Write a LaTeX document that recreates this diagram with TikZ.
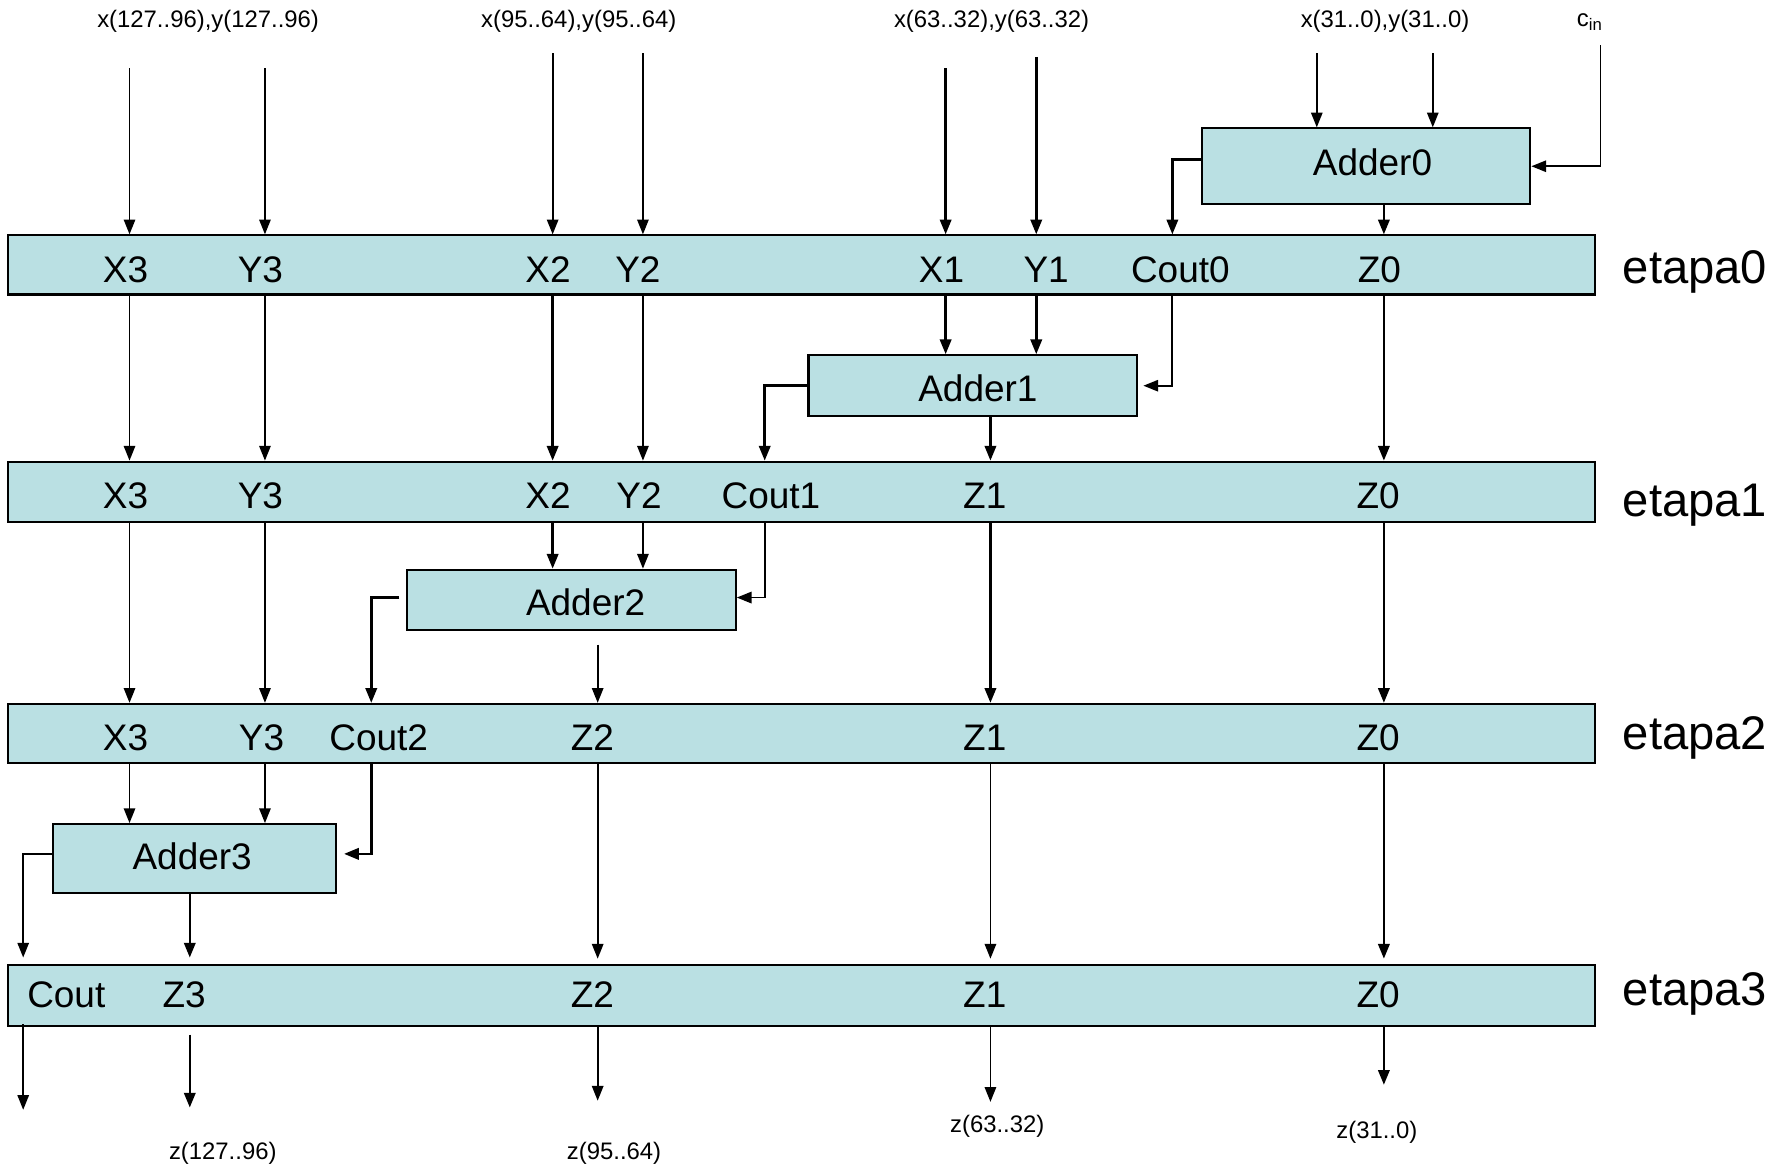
\documentclass[tikz,border=0pt]{standalone}
\usepackage{fontspec}
\setmainfont{Liberation Sans}
\usetikzlibrary{arrows.meta}

\definecolor{cellfill}{RGB}{186,224,227}
\newcommand\fBar{\fontsize{32.5}{38}\selectfont}
\newcommand\fIo{\fontsize{21}{25}\selectfont}
\newcommand\fStage{\fontsize{41.5}{48}\selectfont}

\begin{document}
\begin{tikzpicture}[x=1pt,y=-1pt,
  box/.style={draw=black,line width=1.8pt,fill=cellfill,rectangle,inner sep=0pt},
  bar/.style={box,minimum width=1396pt},
  lbl/.style={font=\fBar,anchor=base,inner sep=0pt},
  io/.style={font=\fIo,anchor=base,inner sep=0pt},
  stage/.style={font=\fStage,anchor=base west,inner sep=0pt},
  wire/.style={line width=1.6pt,-{Triangle[length=13pt,width=10pt]}},
  bus/.style={wire,line width=2.2pt}]

\useasboundingbox (0,0) rectangle (1568,1024);

% pipeline registers
\node[bar,minimum height=52pt] (b0) at (705,233) {};
\node[bar,minimum height=53pt] (b1) at (705,432.5) {};
\node[bar,minimum height=52pt] (b2) at (705,645) {};
\node[bar,minimum height=53pt] (b3) at (705,875.5) {};

% adders
\node[box,minimum width=288.8pt,minimum height=66.6pt] (a0) at (1201.4,146.2) {};
\node[box,minimum width=288.6pt,minimum height=53.6pt] (a1) at (855.3,339.2) {};
\node[box,minimum width=288.8pt,minimum height=53pt] (a2) at (502.6,527.5) {};
\node[box,minimum width=249.3pt,minimum height=60.3pt] (a3) at (171,754.9) {};

\node[lbl] (ta0) at (1207,154) {Adder0};
\node[lbl] (ta1) at (860,353) {Adder1};
\node[lbl] (ta2) at (515,541) {Adder2};
\node[lbl] (ta3) at (169,765) {Adder3};

% column positions
\coordinate (cX3) at (113.9,0);
\coordinate (cY3) at (233,0);
\coordinate (cX2) at (486,0);
\coordinate (cY2) at (565.4,0);
\coordinate (cX1) at (831.6,0);
\coordinate (cY1) at (911.3,0);
\coordinate (cC0) at (1031,0);
\coordinate (cZ0) at (1217,0);
\coordinate (cC1) at (672.5,0);
\coordinate (cZ1) at (871,0);
\coordinate (cC2) at (326.5,0);
\coordinate (cZ2) at (525.6,0);
\coordinate (cCo) at (20.4,0);
\coordinate (cZ3) at (166.9,0);

% register contents
\node[lbl] (l0x3) at (110.4,248) {X3};
\node[lbl] (l0y3) at (229,248) {Y3};
\node[lbl] (l0x2) at (482,248) {X2};
\node[lbl] (l0y2) at (561,248) {Y2};
\node[lbl] (l0x1) at (828,248) {X1};
\node[lbl] (l0y1) at (920,248) {Y1};
\node[lbl] (l0c0) at (1038,248) {Cout0};
\node[lbl] (l0z0) at (1213,248) {Z0};

\node[lbl] (l1x3) at (110.4,447) {X3};
\node[lbl] (l1y3) at (229,447) {Y3};
\node[lbl] (l1x2) at (482,447) {X2};
\node[lbl] (l1y2) at (562,447) {Y2};
\node[lbl] (l1c1) at (678,447) {Cout1};
\node[lbl] (l1z1) at (866,447) {Z1};
\node[lbl] (l1z0) at (1212,447) {Z0};

\node[lbl] (l2x3) at (110.4,660) {X3};
\node[lbl] (l2y3) at (230,660) {Y3};
\node[lbl] (l2c2) at (333,660) {Cout2};
\node[lbl] (l2z2) at (521,660) {Z2};
\node[lbl] (l2z1) at (866,660) {Z1};
\node[lbl] (l2z0) at (1212,660) {Z0};

\node[lbl] (l3co) at (58.3,886) {Cout};
\node[lbl] (l3z3) at (162,886) {Z3};
\node[lbl] (l3z2) at (521,886) {Z2};
\node[lbl] (l3z1) at (866,886) {Z1};
\node[lbl] (l3z0) at (1212,886) {Z0};

% stage names
\node[stage] (e0) at (1427,249) {etapa0};
\node[stage] (e1) at (1427,454) {etapa1};
\node[stage] (e2) at (1427,659) {etapa2};
\node[stage] (e3) at (1427,884) {etapa3};

% operand inputs
\node[io] (in3) at (183,24.5) {x(127..96),y(127..96)};
\node[io] (in2) at (509,24.5) {x(95..64),y(95..64)};
\node[io] (in1) at (872,24.5) {x(63..32),y(63..32)};
\node[io] (in0) at (1218,24.5) {x(31..0),y(31..0)};
\node[io,anchor=base west] (cinl) at (1386.5,23) {c\textsubscript{in}};

\coordinate (sX3) at (113.9,60);
\coordinate (sY3) at (233,60);
\coordinate (sX2) at (486,47);
\coordinate (sY2) at (565.4,47);
\coordinate (sX1) at (831.6,60);
\coordinate (sY1) at (911.3,50);
\coordinate (sX0) at (1158,47);
\coordinate (sY0) at (1260,47);
\coordinate (sCin) at (1407.5,40);

\draw[wire] (sX3) -- (sX3 |- b0.north);
\draw[wire] (sY3) -- (sY3 |- b0.north);
\draw[wire] (sX2) -- (sX2 |- b0.north);
\draw[wire] (sY2) -- (sY2 |- b0.north);
\draw[bus] (sX1) -- (sX1 |- b0.north);
\draw[bus] (sY1) -- (sY1 |- b0.north);
\draw[wire] (sX0) -- (sX0 |- a0.north);
\draw[wire] (sY0) -- (sY0 |- a0.north);
\draw[wire] (sCin) |- (a0.east);

% stage 0
\draw[bus] ([yshift=6pt]a0.west) -| (cC0 |- b0.north);
\draw[bus] (cZ0 |- a0.south) -- (cZ0 |- b0.north);

% stage 0 -> 1
\draw[wire] (cX3 |- b0.south) -- (cX3 |- b1.north);
\draw[wire] (cY3 |- b0.south) -- (cY3 |- b1.north);
\draw[bus] (cX2 |- b0.south) -- (cX2 |- b1.north);
\draw[wire] (cY2 |- b0.south) -- (cY2 |- b1.north);
\draw[bus] (cX1 |- b0.south) -- (cX1 |- a1.north);
\draw[bus] (cY1 |- b0.south) -- (cY1 |- a1.north);
\draw[wire,shorten >=5pt] (cC0 |- b0.south) |- (a1.east);
\draw[bus] (cZ0 |- b0.south) -- (cZ0 |- b1.north);
\draw[bus] (a1.west) -| (cC1 |- b1.north);
\draw[bus] (cZ1 |- a1.south) -- (cZ1 |- b1.north);

% stage 1 -> 2
\draw[wire] (cX3 |- b1.south) -- (cX3 |- b2.north);
\draw[wire] (cY3 |- b1.south) -- (cY3 |- b2.north);
\draw[bus] (cX2 |- b1.south) -- (cX2 |- a2.north);
\draw[wire] (cY2 |- b1.south) -- (cY2 |- a2.north);
\draw[wire] (cC1 |- b1.south) |- ([yshift=2pt]a2.east);
\draw[bus] (cZ1 |- b1.south) -- (cZ1 |- b2.north);
\draw[bus] (cZ0 |- b1.south) -- (cZ0 |- b2.north);
\draw[bus,shorten <=6pt] ([yshift=2pt]a2.west) -| (cC2 |- b2.north);
\draw[wire,shorten <=12pt] (cZ2 |- a2.south) -- (cZ2 |- b2.north);

% stage 2 -> 3
\draw[wire] (cX3 |- b2.south) -- (cX3 |- a3.north);
\draw[wire] (cY3 |- b2.south) -- (cY3 |- a3.north);
\draw[bus,shorten >=6pt] (cC2 |- b2.south) |- ([yshift=4pt]a3.east);
\draw[wire,shorten >=5pt] (cZ2 |- b2.south) -- (cZ2 |- b3.north);
\draw[wire,shorten >=5pt] (cZ1 |- b2.south) -- (cZ1 |- b3.north);
\draw[bus,shorten >=5pt] (cZ0 |- b2.south) -- (cZ0 |- b3.north);
\draw[wire,shorten >=6pt] ([yshift=4pt]a3.west) -| (cCo |- b3.north);
\draw[bus,shorten >=6pt] (cZ3 |- a3.south) -- (cZ3 |- b3.north);

% results
\coordinate (oCo) at (20.4,976);
\coordinate (oZ3) at (166.9,974);
\coordinate (oZ2) at (525.6,968);
\coordinate (oZ1) at (871,969);
\coordinate (oZ0) at (1217,954);

\draw[wire] ([yshift=2pt]cCo |- b3.south) -- (oCo);
\draw[bus,shorten <=7pt] (cZ3 |- b3.south) -- (oZ3);
\draw[wire] (cZ2 |- b3.south) -- (oZ2);
\draw[wire] (cZ1 |- b3.south) -- (oZ1);
\draw[bus] (cZ0 |- b3.south) -- (oZ0);

\node[io] (out3) at (195.9,1019.5) {z(127..96)};
\node[io] (out2) at (540,1019.5) {z(95..64)};
\node[io] (out1) at (877,995.5) {z(63..32)};
\node[io] (out0) at (1210.8,1001.5) {z(31..0)};

\end{tikzpicture}
\end{document}
